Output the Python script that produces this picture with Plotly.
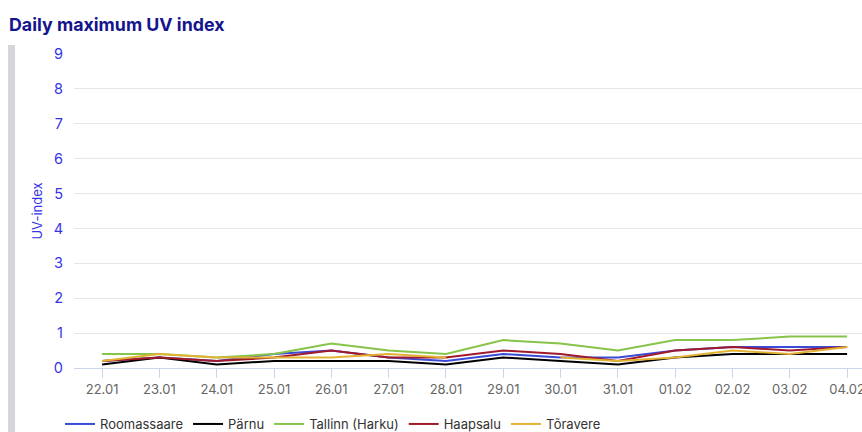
import plotly.graph_objects as go

dates = ["22.01", "23.01", "24.01", "25.01", "26.01", "27.01", "28.01",
         "29.01", "30.01", "31.01", "01.02", "02.02", "03.02", "04.02"]

roomassaare = [0.2, 0.3, 0.2, 0.4, 0.5, 0.3, 0.2, 0.4, 0.3, 0.3, 0.5, 0.6, 0.6, 0.6]
parnu = [0.1, 0.3, 0.1, 0.2, 0.2, 0.2, 0.1, 0.3, 0.2, 0.1, 0.3, 0.4, 0.4, 0.4]
tallinn = [0.4, 0.4, 0.3, 0.4, 0.7, 0.5, 0.4, 0.8, 0.7, 0.5, 0.8, 0.8, 0.9, 0.9]
haapsalu = [0.2, 0.3, 0.2, 0.3, 0.5, 0.3, 0.3, 0.5, 0.4, 0.2, 0.5, 0.6, 0.5, 0.6]
toravere = [0.2, 0.4, 0.3, 0.3, 0.3, 0.4, 0.3, None, 0.3, 0.2, 0.3, 0.5, 0.4, 0.6]

series = [
    ("Roomassaare", roomassaare, "#3a4bd6"),
    ("Pärnu", parnu, "#000000"),
    ("Tallinn (Harku)", tallinn, "#86c44a"),
    ("Haapsalu", haapsalu, "#a11a2c"),
    ("Tõravere", toravere, "#e2b233"),
]

y_ticks = list(range(0, 10))

fig = go.Figure()
for name, vals, color in series:
    fig.add_trace(go.Scatter(
        x=dates, y=vals, name=name, mode="lines",
        line=dict(color=color, width=2),
    ))

font_family = "Inter, 'Open Sans', sans-serif"

fig.update_layout(
    width=862, height=432,
    margin=dict(l=74, r=0, t=54, b=64, autoexpand=False),
    paper_bgcolor="white", plot_bgcolor="white",
    font=dict(family=font_family),
    title=dict(
        text="<b>Daily maximum UV index</b>",
        x=9 / 862, xanchor="left", xref="container",
        y=1 - 25 / 432, yanchor="middle", yref="container",
        font=dict(size=17.8, color="#14148c", family=font_family),
    ),
    showlegend=True,
    legend=dict(
        orientation="h", x=60 / 862, xanchor="left", xref="container",
        y=8 / 432, yanchor="middle", yref="container",
        font=dict(size=13, color="#333333", family=font_family),
        itemwidth=30, tracegroupgap=0,
    ),
    xaxis=dict(
        type="category",
        range=[-0.49, 13.26],
        showgrid=False,
        showline=True, linecolor="#ccd6eb", linewidth=1,
        ticks="outside", ticklen=9, tickcolor="#ccd6eb",
        tickfont=dict(size=13, color="#666666", family=font_family),
        zeroline=False,
    ),
    yaxis=dict(
        range=[0, 9],
        tickvals=y_ticks,
        showgrid=True, gridcolor="#e6e6e6", gridwidth=1,
        zeroline=False,
        showline=False,
        ticklabelstandoff=10,
        tickfont=dict(size=14.5, color="#3535e8", family=font_family),
        title=dict(text="UV-index", font=dict(size=13, color="#3535e8", family=font_family), standoff=8),
    ),
    shapes=[dict(
        type="rect", xref="paper", yref="paper",
        x0=-66 / 788, x1=-59 / 788,
        y0=-64 / 314, y1=(368 - 45) / 314,
        fillcolor="#d5d6d9", line=dict(width=0), layer="below",
    )],
)

fig.write_html("out.html")
